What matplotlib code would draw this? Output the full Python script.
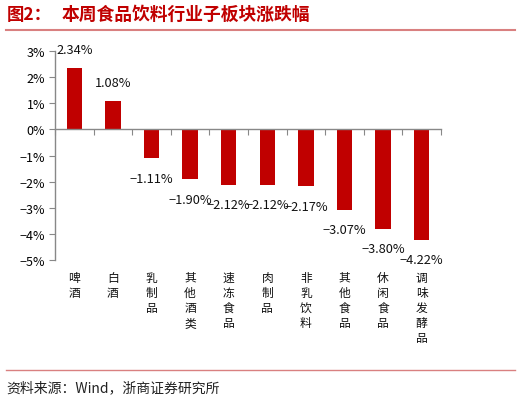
import numpy as np
import matplotlib.pyplot as plt
from matplotlib.lines import Line2D

plt.rcParams['font.family'] = ['Noto Sans CJK SC', 'DejaVu Sans']
plt.rcParams['axes.unicode_minus'] = True

categories = ['啤酒', '白酒', '乳制品', '其他酒类', '速冻食品', '肉制品', '非乳饮料', '其他食品', '休闲食品', '调味发酵品']
values = [2.34, 1.08, -1.11, -1.90, -2.12, -2.12, -2.17, -3.07, -3.80, -4.22]
yticks = [3, 2, 1, 0, -1, -2, -3, -4, -5]

W, H = 521, 402
fig = plt.figure(figsize=(W / 100, H / 100), dpi=100)

# title and frame lines
fig.text(7 / W, 1 - 15 / H, '图2：', color='#C00000', fontsize=12.5, fontweight='bold', va='center')
fig.text(62 / W, 1 - 15 / H, '本周食品饮料行业子板块涨跌幅', color='#C00000', fontsize=12.8,
         fontweight='bold', va='center')
fig.add_artist(Line2D([6 / W, 515 / W], [1 - 31 / H, 1 - 31 / H], color='#D98080', lw=1.5))
fig.add_artist(Line2D([6 / W, 515 / W], [1 - 371 / H, 1 - 371 / H], color='#D98080', lw=1.0))
fig.text(6 / W, 1 - 388 / H, '资料来源：Wind，浙商证券研究所', color='#222222', fontsize=10, va='center')

ax = fig.add_axes([55 / W, 1 - 261 / H, (441 - 55) / W, (261 - 52) / H])
x = np.arange(len(categories))
ax.bar(x, values, width=0.4, color='#C00000')
ax.set_xlim(-0.5, len(categories) - 0.5)
ax.set_ylim(-5, 3)

for s in ['top', 'right']:
    ax.spines[s].set_visible(False)
ax.spines['bottom'].set_position(('data', 0))
for s in ['left', 'bottom']:
    ax.spines[s].set_color('#888888')
    ax.spines[s].set_linewidth(1.0)

ax.set_yticks(yticks)
ax.set_yticklabels([f'{t}%'.replace('-', '\u2212') for t in yticks], fontsize=9)
ax.tick_params(axis='y', length=4, color='#888888', direction='out', pad=3)
ax.set_xticks(np.arange(-0.5, len(categories), 1.0))
ax.set_xticklabels([])
ax.tick_params(axis='x', length=4, color='#888888', direction='out')

for i, v in enumerate(values):
    txt = f'{v:.2f}%'.replace('-', '\u2212')
    off = 19 if v > 0 else -20
    ax.annotate(txt, (i, v), xytext=(0, off * 0.72), textcoords='offset points',
                ha='center', va='center', fontsize=9.2, color='#111111')

for i, c in enumerate(categories):
    ax.text(i, -5.42, '\n'.join(c), ha='center', va='top', fontsize=8.5,
            linespacing=1.2, color='#111111')

fig.savefig('out.png', dpi=100)
